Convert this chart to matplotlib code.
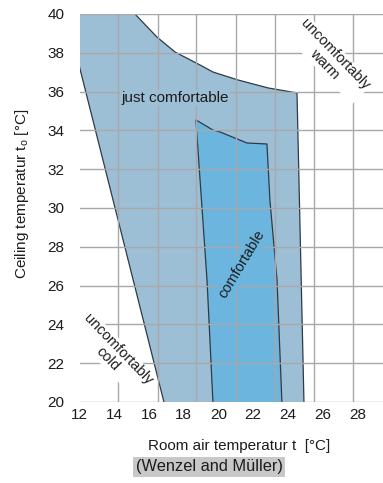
import matplotlib
matplotlib.use("Agg")
import matplotlib.pyplot as plt

plt.rcParams['font.family'] = ['Liberation Sans', 'DejaVu Sans']

# "just comfortable" zone: left (cold) boundary and upper/right (warm) boundary
cold_x = [12.0, 16.86]
cold_y = [37.27, 20.0]
warm_x = [15.19, 16.46, 17.50, 18.94, 19.68, 21.12, 22.85, 24.52, 24.92]
warm_y = [40.0, 38.81, 38.04, 37.37, 37.01, 36.60, 36.19, 35.93, 20.0]

# "comfortable" zone boundary (open at the bottom axis)
comf_x = [19.68, 19.34, 18.70, 19.68, 20.09, 21.64, 22.79, 22.96, 23.37, 23.65]
comf_y = [20.0, 26.29, 34.54, 34.02, 33.92, 33.35, 33.30, 30.41, 26.29, 20.0]

x_ticks = [12, 14, 16, 18, 20, 22, 24, 26, 28]
y_ticks = [20, 22, 24, 26, 28, 30, 32, 34, 36, 38, 40]
grid_x = [12, 14.24, 16.49, 18.73, 20.98, 23.27, 25.52, 27.76]

outer_col = '#9dbfd6'
inner_col = '#6cb5df'
edge_col = '#2e3a46'
grid_col = '#a8a8a8'
text_col = '#1c1c1c'

fig = plt.figure(figsize=(3.83, 4.83), dpi=100)
ax = fig.add_axes([79.5 / 383, 81 / 483, 303.5 / 383, 388 / 483])

outer_x = [12.0] + warm_x + [cold_x[1], cold_x[0]]
outer_y = [40.0] + warm_y + [cold_y[1], cold_y[0]]
ax.fill(outer_x, outer_y, color=outer_col, lw=0, zorder=1)
ax.fill(comf_x, comf_y, color=inner_col, lw=0, zorder=1.2)
ax.plot(cold_x, cold_y, color=edge_col, lw=0.9, zorder=2)
ax.plot(warm_x, warm_y, color=edge_col, lw=0.9, zorder=2)
ax.plot(comf_x, comf_y, color=edge_col, lw=0.9, zorder=2)

ax.set_xlim(12, 29.47)
ax.set_ylim(20, 40)
ax.set_xticks(x_ticks)
ax.set_xticks(grid_x, minor=True)
ax.set_yticks(y_ticks)
ax.set_axisbelow(False)
ax.grid(False, axis='x', which='major')
ax.grid(True, axis='x', which='minor', color=grid_col, lw=1.0)
ax.grid(True, axis='y', which='major', color=grid_col, lw=1.0)
ax.tick_params(which='both', length=0, labelsize=11, colors=text_col)
ax.tick_params(axis='y', pad=11)
ax.tick_params(axis='x', pad=4)
for s in ax.spines.values():
    s.set_visible(False)

ax.text(17.5, 35.67, 'just comfortable', fontsize=11, color=text_col,
        ha='center', va='center', zorder=3,
        bbox=dict(facecolor=outer_col, edgecolor='none', pad=1))
ax.text(21.35, 27.11, 'comfortable', fontsize=10.5, color=text_col, rotation=59,
        ha='center', va='center', zorder=3,
        bbox=dict(facecolor=inner_col, edgecolor='none', pad=1))
ax.text(26.4, 37.65, 'uncomfortably\nwarm', fontsize=10.5, color=text_col,
        rotation=-46, ha='center', va='center', linespacing=1.0, zorder=3,
        bbox=dict(facecolor='white', edgecolor='none', pad=1))
ax.text(13.93, 22.45, 'uncomfortably\ncold', fontsize=10.5, color=text_col,
        rotation=-46, ha='center', va='center', linespacing=1.0, zorder=3,
        bbox=dict(facecolor='white', edgecolor='none', pad=1))

fig.text(22 / 383, 1 - 194 / 483, 'Ceiling temperatur t$_\\mathregular{o}$ [°C]',
         rotation=90, fontsize=11, color=text_col, ha='center', va='center')
fig.text(239 / 383, 1 - 446 / 483, 'Room air temperatur t  [°C]',
         fontsize=11, color=text_col, ha='center', va='center')
fig.text(209 / 383, 1 - 467 / 483, '(Wenzel and Müller)',
         fontsize=11.8, color=text_col, ha='center', va='center',
         bbox=dict(facecolor='#c8c8c8', edgecolor='none', pad=1.5))

fig.savefig('out.png', dpi=100)
